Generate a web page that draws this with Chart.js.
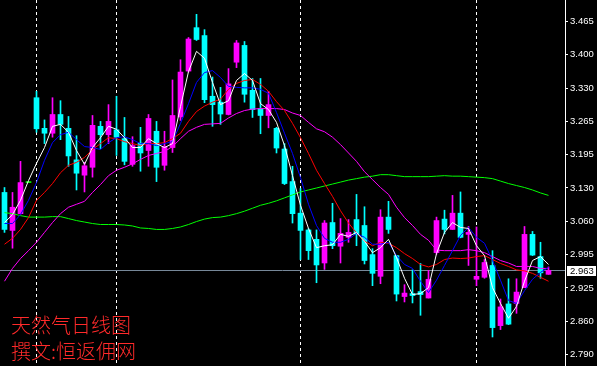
<!DOCTYPE html>
<html><head><meta charset="utf-8">
<script src="https://cdn.jsdelivr.net/npm/chart.js@4.4.1/dist/chart.umd.min.js"></script>
<style>html,body{margin:0;padding:0;background:#000;overflow:hidden}#wrap{position:relative;width:597px;height:366px}</style>
</head><body><div id="wrap"><canvas id="c" width="597" height="366"></canvas></div>
<script>
// ---- data (daily candles, natural gas) ----
const opens  = [3.121,3.044,3.078,3.141,3.313,3.251,3.241,3.279,3.251,3.187,3.156,3.172,3.255,3.238,3.248,3.230,3.178,3.221,3.206,3.245,3.176,3.212,3.274,3.367,3.455,3.439,3.316,3.304,3.279,3.385,3.419,3.328,3.291,3.277,3.251,3.209,3.143,3.079,3.045,3.026,2.978,3.060,3.012,3.030,3.066,3.054,2.995,2.951,3.071,2.993,2.910,2.916,2.920,2.907,2.999,3.067,3.046,3.079,3.036,2.945,2.949,2.973,2.851,2.895,2.896,2.928,3.036,2.991,2.955];
const highs  = [3.131,3.121,3.184,3.141,3.326,3.268,3.313,3.307,3.275,3.236,3.182,3.277,3.265,3.299,3.316,3.273,3.234,3.253,3.279,3.265,3.245,3.349,3.390,3.435,3.482,3.451,3.355,3.334,3.372,3.429,3.427,3.352,3.352,3.326,3.253,3.220,3.174,3.129,3.048,3.045,3.064,3.099,3.068,3.066,3.117,3.092,3.007,3.086,3.103,2.993,2.934,2.964,2.977,2.963,3.071,3.085,3.115,3.122,3.052,3.051,2.985,3.003,2.905,2.946,2.946,3.052,3.042,3.020,2.970];
const lows   = [3.040,3.008,3.077,3.141,3.243,3.220,3.233,3.228,3.174,3.126,3.122,3.152,3.210,3.220,3.196,3.177,3.174,3.164,3.174,3.143,3.166,3.202,3.267,3.365,3.429,3.303,3.255,3.259,3.278,3.374,3.304,3.273,3.240,3.252,3.201,3.137,3.059,2.985,2.985,2.938,2.965,3.007,2.978,3.020,3.013,2.976,2.932,2.936,3.038,2.901,2.899,2.897,2.872,2.907,2.996,3.037,3.046,3.029,2.973,2.932,2.947,2.828,2.843,2.853,2.876,2.928,2.993,2.947,2.955];
const closes = [3.046,3.091,3.141,3.141,3.250,3.241,3.279,3.259,3.195,3.160,3.175,3.257,3.238,3.265,3.233,3.184,3.216,3.201,3.271,3.172,3.214,3.277,3.365,3.432,3.431,3.309,3.299,3.280,3.341,3.424,3.320,3.289,3.277,3.299,3.211,3.139,3.078,3.044,3.003,2.974,3.059,3.013,3.038,3.040,3.036,2.983,2.957,3.071,3.046,2.915,2.917,2.912,2.914,2.945,3.064,3.046,3.079,3.030,3.040,2.951,2.979,2.847,2.889,2.854,2.919,3.036,2.994,2.958,2.963];

// moving averages
const maWhite   = [3.060,3.076,3.105,3.145,3.180,3.212,3.255,3.259,3.243,3.206,3.178,3.212,3.232,3.255,3.249,3.232,3.212,3.212,3.230,3.220,3.212,3.220,3.295,3.366,3.407,3.393,3.344,3.299,3.307,3.348,3.362,3.348,3.301,3.289,3.263,3.216,3.155,3.095,3.048,3.009,3.013,3.015,3.036,3.032,3.040,3.022,2.999,3.009,3.026,2.989,2.947,2.914,2.916,2.928,2.997,3.040,3.060,3.050,3.048,3.013,2.993,2.928,2.896,2.866,2.890,2.941,2.983,2.991,2.975];
const maBlue    = [3.058,3.058,3.076,3.105,3.141,3.186,3.222,3.238,3.243,3.228,3.214,3.212,3.208,3.222,3.232,3.234,3.228,3.220,3.220,3.216,3.220,3.224,3.261,3.301,3.344,3.364,3.368,3.354,3.336,3.334,3.333,3.333,3.330,3.322,3.283,3.241,3.200,3.151,3.097,3.054,3.028,3.020,3.020,3.026,3.038,3.030,3.016,3.016,3.020,2.993,2.975,2.967,2.941,2.918,2.943,2.973,3.003,3.034,3.050,3.030,3.018,2.983,2.943,2.902,2.896,2.922,2.945,2.959,2.969];
const maRed     = [3.016,3.028,3.046,3.070,3.105,3.121,3.139,3.161,3.176,3.182,3.192,3.208,3.220,3.232,3.230,3.224,3.220,3.216,3.220,3.220,3.222,3.230,3.241,3.265,3.285,3.296,3.304,3.310,3.330,3.342,3.348,3.350,3.340,3.326,3.305,3.287,3.261,3.232,3.200,3.166,3.139,3.113,3.084,3.059,3.039,3.022,3.013,3.020,3.018,3.009,2.997,2.987,2.975,2.970,2.975,2.985,2.988,2.987,2.988,2.991,2.993,2.985,2.977,2.971,2.964,2.962,2.957,2.949,2.941];
const maMagenta = [2.941,2.967,2.987,3.003,3.020,3.040,3.060,3.078,3.091,3.097,3.103,3.121,3.137,3.155,3.166,3.172,3.179,3.188,3.196,3.200,3.204,3.214,3.230,3.245,3.253,3.259,3.260,3.261,3.272,3.281,3.287,3.290,3.291,3.291,3.291,3.289,3.282,3.277,3.263,3.250,3.244,3.233,3.218,3.201,3.184,3.163,3.147,3.131,3.117,3.091,3.070,3.054,3.036,3.024,3.004,3.003,3.003,3.003,3.005,3.003,2.999,2.991,2.983,2.978,2.971,2.971,2.971,2.967,2.967];
const maGreen   = [3.080,3.078,3.074,3.071,3.071,3.071,3.072,3.072,3.068,3.064,3.061,3.058,3.056,3.056,3.056,3.055,3.053,3.049,3.048,3.046,3.046,3.048,3.051,3.056,3.062,3.067,3.070,3.071,3.074,3.078,3.083,3.089,3.095,3.099,3.104,3.110,3.116,3.122,3.126,3.130,3.134,3.138,3.142,3.146,3.149,3.152,3.154,3.157,3.157,3.155,3.153,3.153,3.153,3.153,3.154,3.155,3.154,3.154,3.153,3.152,3.151,3.149,3.144,3.139,3.135,3.131,3.126,3.120,3.115];

// axis
const tickValues = [2.7925,2.86,2.9275,2.995,3.0625,3.13,3.1975,3.265,3.3325,3.4,3.4675];
const tickLabels = ['2.790','2.860','2.925','2.995','3.060','3.130','3.195','3.265','3.330','3.400','3.465'];
const separators = [4,14,37,59];     // month separators (bar index)
const lastPrice = 2.963;
const lastPriceLabel = '2.963';
const titleLines = ['天然气日线图','撰文:恒返佣网'];

const UP='#ff00ff', DOWN='#00ffff', FLAT='#00ff00';
const idx = opens.map((_,i)=>i);
const candleColor = idx.map(i => closes[i]>opens[i]?UP:(closes[i]<opens[i]?DOWN:FLAT));
const AXIS_FONT = '"Liberation Sans", Arial, sans-serif';

function lineDs(arr,color,order){
  return {type:'line',data:idx.map(i=>({x:i,y:arr[i]})),borderColor:color,borderWidth:1,
    pointRadius:0,tension:0,fill:false,order:order};
}

const bgPlugin = {
  id:'bg',
  beforeDraw(chart){const c=chart.ctx;c.save();c.fillStyle='#000';c.fillRect(0,0,chart.width,chart.height);c.restore();}
};
const decoPlugin = {
  id:'deco',
  beforeDatasetsDraw(chart){
    const c=chart.ctx, xs=chart.scales.x, ys=chart.scales.y, a=chart.chartArea;
    c.save();
    c.strokeStyle='#ffffff'; c.lineWidth=1; c.setLineDash([3,3]);
    separators.forEach(k=>{
      const x=Math.floor(xs.getPixelForValue(k))+0.5;
      c.beginPath(); c.moveTo(x,a.top); c.lineTo(x,a.bottom); c.stroke();
    });
    c.setLineDash([]);
    const y=Math.floor(ys.getPixelForValue(lastPrice))+0.5;
    c.strokeStyle='#778899';
    c.beginPath(); c.moveTo(a.left,y); c.lineTo(a.right,y); c.stroke();
    c.restore();
  },
  afterDraw(chart){
    const c=chart.ctx, ys=chart.scales.y, a=chart.chartArea;
    c.save();
    const y=Math.floor(ys.getPixelForValue(lastPrice));
    c.fillStyle='#ffffff';
    c.fillRect(a.right+2,y-4,29,10);
    c.fillStyle='#000000';
    c.font='9.5px '+AXIS_FONT;
    c.textBaseline='middle'; c.textAlign='left';
    c.fillText(lastPriceLabel,a.right+5,y+1.5);
    c.fillStyle='#ff2a2a';
    c.font='300 20px "Noto Sans CJK SC", sans-serif';
    c.fillText(titleLines[0],11,325);
    c.fillText(titleLines[1],11,351);
    c.restore();
  }
};

new Chart(document.getElementById('c'),{
  type:'bar',
  data:{datasets:[
    lineDs(maWhite,'#ffffff',1),
    lineDs(maBlue,'#0000ff',2),
    lineDs(maRed,'#ff0000',3),
    lineDs(maMagenta,'#ff00ff',4),
    lineDs(maGreen,'#00ff00',5),
    {type:'bar',data:idx.map(i=>({x:i,y:[opens[i],closes[i]]})),backgroundColor:candleColor,
      barThickness:5,grouped:false,minBarLength:1,borderWidth:0,order:9},
    {type:'bar',data:idx.map(i=>({x:i,y:[lows[i],highs[i]]})),backgroundColor:candleColor,
      barThickness:1,grouped:false,borderWidth:0,order:10}
  ]},
  options:{
    responsive:false,animation:false,devicePixelRatio:1,
    layout:{padding:0},
    plugins:{legend:{display:false},tooltip:{enabled:false},title:{display:false}},
    scales:{
      x:{type:'linear',display:false,offset:false,min:-0.5625,max:70.0625},
      y:{type:'linear',position:'right',min:2.769189,max:3.511081,
        afterBuildTicks(axis){axis.ticks=tickValues.map(v=>({value:v}));},
        afterFit(axis){axis.width=32;axis.paddingTop=0;axis.paddingBottom=0;},
        grid:{drawOnChartArea:false,drawTicks:true,tickLength:3,color:'#ffffff',lineWidth:1},
        border:{display:true,color:'#ffffff',width:1},
        ticks:{autoSkip:false,color:'#ffffff',padding:2,
          font:{family:AXIS_FONT,size:9.5},
          callback:(v,i)=>tickLabels[i]}
      }
    }
  },
  plugins:[bgPlugin,decoPlugin]
});
</script></body></html>
